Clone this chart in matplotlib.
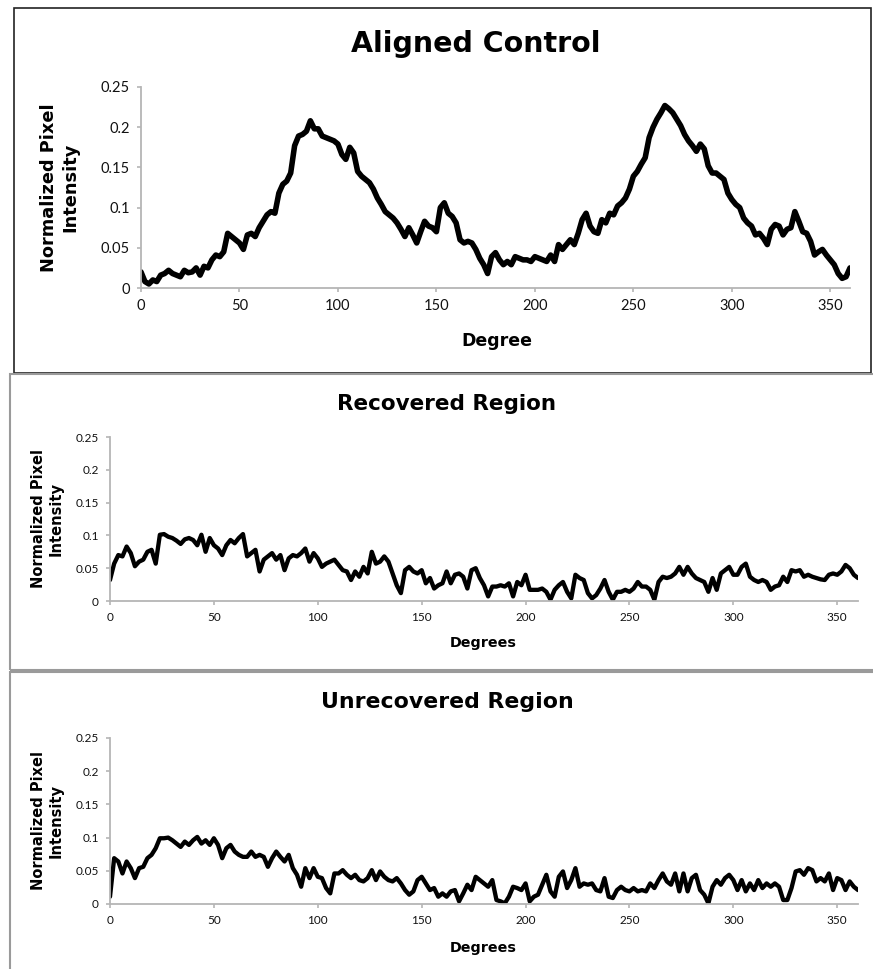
import matplotlib
matplotlib.use("Agg")
import matplotlib.pyplot as plt
from matplotlib.patches import Rectangle
import numpy as np

# degrees sampled every 2 degrees, 0..360
degrees = np.arange(0, 361, 2)

aligned_control = [
    0.020, 0.008, 0.005, 0.010, 0.008, 0.016, 0.018, 0.022, 0.018, 0.016,
    0.014, 0.022, 0.019, 0.020, 0.025, 0.016, 0.027, 0.025, 0.035, 0.041,
    0.039, 0.045, 0.068, 0.064, 0.060, 0.056, 0.048, 0.066, 0.068, 0.064,
    0.075, 0.083, 0.091, 0.095, 0.093, 0.118, 0.129, 0.133, 0.143, 0.177,
    0.189, 0.191, 0.195, 0.208, 0.198, 0.198, 0.189, 0.187, 0.185, 0.183,
    0.179, 0.166, 0.160, 0.175, 0.168, 0.145, 0.139, 0.135, 0.131, 0.123,
    0.112, 0.104, 0.095, 0.091, 0.087, 0.081, 0.073, 0.064, 0.075, 0.066,
    0.056, 0.070, 0.083, 0.077, 0.075, 0.070, 0.100, 0.106, 0.093, 0.089,
    0.081, 0.060, 0.056, 0.058, 0.056, 0.048, 0.037, 0.029, 0.018, 0.039,
    0.044, 0.035, 0.029, 0.033, 0.029, 0.039, 0.037, 0.035, 0.035, 0.033,
    0.039, 0.037, 0.035, 0.033, 0.041, 0.033, 0.054, 0.048, 0.054, 0.060,
    0.054, 0.068, 0.085, 0.093, 0.077, 0.070, 0.068, 0.085, 0.081, 0.093,
    0.091, 0.102, 0.106, 0.112, 0.123, 0.139, 0.145, 0.154, 0.162, 0.187,
    0.200, 0.210, 0.218, 0.227, 0.223, 0.218, 0.210, 0.202, 0.191, 0.183,
    0.177, 0.170, 0.179, 0.173, 0.152, 0.143, 0.143, 0.139, 0.135, 0.118,
    0.110, 0.104, 0.100, 0.087, 0.081, 0.077, 0.066, 0.068, 0.062, 0.054,
    0.073, 0.079, 0.077, 0.066, 0.073, 0.075, 0.095, 0.083, 0.070, 0.068,
    0.058, 0.041, 0.045, 0.048, 0.041, 0.035, 0.029, 0.018, 0.012, 0.014,
    0.025,
]

recovered_region = [
    0.032, 0.057, 0.070, 0.068, 0.083, 0.073, 0.053, 0.060, 0.063, 0.075,
    0.078, 0.057, 0.101, 0.102, 0.098, 0.096, 0.092, 0.087, 0.094, 0.096,
    0.093, 0.085, 0.101, 0.075, 0.096, 0.085, 0.080, 0.070, 0.085, 0.093,
    0.088, 0.096, 0.102, 0.068, 0.073, 0.078, 0.045, 0.063, 0.068, 0.073,
    0.063, 0.070, 0.047, 0.065, 0.070, 0.068, 0.073, 0.080, 0.060, 0.073,
    0.065, 0.052, 0.057, 0.060, 0.063, 0.055, 0.047, 0.045, 0.032, 0.045,
    0.037, 0.052, 0.042, 0.075, 0.057, 0.060, 0.068, 0.060, 0.042, 0.024,
    0.012, 0.047, 0.052, 0.045, 0.042, 0.047, 0.027, 0.035, 0.019, 0.024,
    0.027, 0.045, 0.027, 0.040, 0.042, 0.037, 0.019, 0.047, 0.050, 0.035,
    0.024, 0.007, 0.022, 0.022, 0.024, 0.022, 0.027, 0.007, 0.029, 0.024,
    0.040, 0.017, 0.017, 0.017, 0.019, 0.014, 0.002, 0.017, 0.024, 0.029,
    0.014, 0.004, 0.040, 0.035, 0.032, 0.012, 0.004, 0.009, 0.019, 0.032,
    0.014, 0.002, 0.014, 0.014, 0.017, 0.014, 0.019, 0.029, 0.022, 0.022,
    0.017, 0.002, 0.029, 0.037, 0.035, 0.037, 0.042, 0.052, 0.040, 0.052,
    0.042, 0.035, 0.032, 0.029, 0.014, 0.035, 0.017, 0.042, 0.047, 0.052,
    0.040, 0.040, 0.052, 0.057, 0.037, 0.032, 0.029, 0.032, 0.029, 0.017,
    0.022, 0.024, 0.037, 0.029, 0.047, 0.045, 0.047, 0.037, 0.040, 0.037,
    0.035, 0.033, 0.032, 0.040, 0.042, 0.040, 0.045, 0.055, 0.050, 0.040,
    0.035,
]

unrecovered_region = [
    0.011, 0.069, 0.064, 0.046, 0.064, 0.054, 0.039, 0.054, 0.056, 0.069,
    0.074, 0.084, 0.099, 0.099, 0.100, 0.096, 0.091, 0.086, 0.094, 0.089,
    0.096, 0.101, 0.091, 0.096, 0.089, 0.099, 0.089, 0.069, 0.084, 0.089,
    0.079, 0.074, 0.071, 0.071, 0.079, 0.071, 0.074, 0.071, 0.056, 0.069,
    0.079, 0.071, 0.064, 0.074, 0.054, 0.044, 0.026, 0.054, 0.039, 0.054,
    0.041, 0.039, 0.024, 0.016, 0.046, 0.046, 0.051, 0.044, 0.039, 0.044,
    0.036, 0.034, 0.039, 0.051, 0.036, 0.049, 0.041, 0.036, 0.034, 0.039,
    0.031, 0.021, 0.014, 0.019, 0.036, 0.041, 0.031, 0.021, 0.024, 0.011,
    0.016, 0.011, 0.019, 0.021, 0.004, 0.016, 0.029, 0.021, 0.041, 0.036,
    0.031, 0.026, 0.036, 0.006, 0.004, 0.001, 0.011, 0.026, 0.024, 0.021,
    0.031, 0.004, 0.011, 0.014, 0.029, 0.044, 0.019, 0.011, 0.041, 0.049,
    0.024, 0.036, 0.054, 0.026, 0.031, 0.029, 0.031, 0.021, 0.019, 0.039,
    0.011, 0.009, 0.021, 0.026, 0.021, 0.019, 0.024, 0.019, 0.021, 0.019,
    0.031, 0.024, 0.036, 0.046, 0.034, 0.029, 0.046, 0.019, 0.046, 0.019,
    0.039, 0.044, 0.021, 0.014, 0.001, 0.026, 0.036, 0.029, 0.039, 0.044,
    0.036, 0.021, 0.036, 0.019, 0.031, 0.021, 0.036, 0.024, 0.031, 0.026,
    0.031, 0.026, 0.006, 0.006, 0.024, 0.049, 0.051, 0.044, 0.054, 0.051,
    0.034, 0.039, 0.034, 0.046, 0.021, 0.039, 0.036, 0.021, 0.034, 0.026,
    0.021,
]

titles = ["Aligned Control", "Recovered Region", "Unrecovered Region"]
xlabels = ["Degree", "Degrees", "Degrees"]
ylabel = "Normalized Pixel\nIntensity"
yticks = [0, 0.05, 0.1, 0.15, 0.2, 0.25]
ytick_labels = ["0", "0.05", "0.1", "0.15", "0.2", "0.25"]
xticks = [0, 50, 100, 150, 200, 250, 300, 350]

W, H = 873, 969
fig = plt.figure(figsize=(W / 100, H / 100), dpi=100)


def fx(px):
    return px / W


def fy(py):
    return 1 - py / H


# panel frames
fig.patches.append(Rectangle((fx(14), fy(373)), fx(871 - 14), 365 / H,
                             transform=fig.transFigure, fill=False,
                             edgecolor="#222222", lw=1.2))
fig.patches.append(Rectangle((fx(10), fy(670)), fx(880 - 10), 296 / H,
                             transform=fig.transFigure, fill=False,
                             edgecolor="#9a9a9a", lw=1.5))
fig.patches.append(Rectangle((fx(10), fy(975)), fx(880 - 10), 303 / H,
                             transform=fig.transFigure, fill=False,
                             edgecolor="#9a9a9a", lw=1.5))

# (left, top, right, bottom) in pixels for each plot area
boxes = [(141, 87, 850, 288), (110, 437, 858, 601), (110, 738, 858, 904)]
series = [aligned_control, recovered_region, unrecovered_region]
title_pos = [(476, 44), (447, 404), (447, 702)]
xlabel_pos = [(497, 341), (483, 643), (483, 948)]
ylabel_x = [60, 47, 47]
title_size = [20.5, 15.5, 15.8]
tick_size = [10.5, 8.5, 8.5]
xlab_size = [12.5, 10.3, 10.3]
ylab_size = [12.8, 10.5, 10.5]
ylab_spacing = [1.22, 1.2, 1.2]
lw = [4.0, 3.1, 3.1]
bold = "DejaVu Sans"

for i in range(3):
    l, t, r, b = boxes[i]
    ax = fig.add_axes([fx(l), fy(b), (r - l) / W, (b - t) / H])
    ax.plot(degrees, series[i], color="black", lw=lw[i],
            solid_joinstyle="round", solid_capstyle="round")
    ax.set_xlim(0, 360)
    ax.set_ylim(0, 0.25)
    ax.set_xticks(xticks)
    ax.set_yticks(yticks)
    ax.set_yticklabels(ytick_labels)
    for s in ["top", "right"]:
        ax.spines[s].set_visible(False)
    for s in ["left", "bottom"]:
        ax.spines[s].set_color("#b5b5b5")
        ax.spines[s].set_linewidth(1.3)
    ax.tick_params(direction="out", length=3, width=1.2, color="#b5b5b5",
                   labelsize=tick_size[i], labelcolor="#111111", pad=5)
    for lab in ax.get_xticklabels() + ax.get_yticklabels():
        lab.set_family("Lato")

    tx, ty = title_pos[i]
    fig.text(fx(tx), fy(ty), titles[i], ha="center", va="center",
             fontsize=title_size[i], fontweight="bold", family=bold)
    xx, xy = xlabel_pos[i]
    fig.text(fx(xx), fy(xy), xlabels[i], ha="center", va="center",
             fontsize=xlab_size[i], fontweight="bold", family=bold)
    fig.text(fx(ylabel_x[i]), fy((t + b) / 2), ylabel, ha="center",
             va="center", rotation=90, fontsize=ylab_size[i],
             fontweight="bold", family=bold, linespacing=ylab_spacing[i])

fig.savefig("out.png", dpi=100)
